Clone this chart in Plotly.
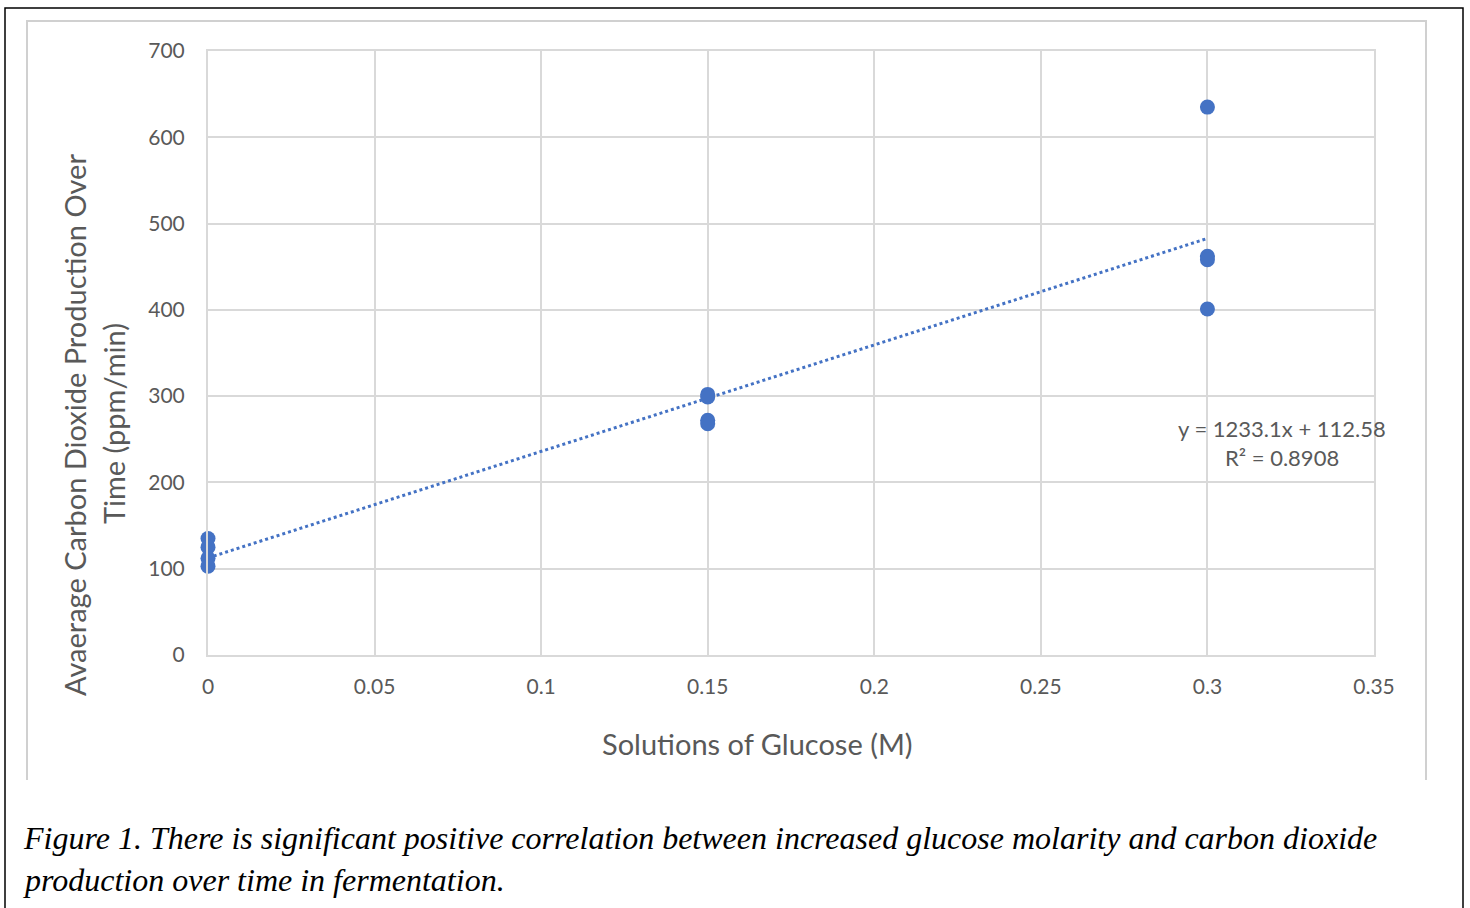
import numpy as np
import plotly.graph_objects as go

# Data
glucose_m = [0, 0, 0, 0, 0.15, 0.15, 0.15, 0.15, 0.3, 0.3, 0.3, 0.3]
co2_rate = [135, 125, 112, 103, 302, 299, 272, 268, 635, 462, 458, 401]
x_ticks = [0, 0.05, 0.1, 0.15, 0.2, 0.25, 0.3, 0.35]
x_tick_labels = ["0", "0.05", "0.1", "0.15", "0.2", "0.25", "0.3", "0.35"]
y_ticks = [0, 100, 200, 300, 400, 500, 600, 700]
eq_text = "y = 1233.1x + 112.58"
r2_text = "R² = 0.8908"
caption_1 = "Figure 1. There is significant positive correlation between increased glucose molarity and carbon dioxide"
caption_2 = "production over time in fermentation."

W, H = 1470, 908
L, R, T, B = 208, 1374, 51, 655
pw, ph = R - L, B - T

def px(x):
    return (x - L) / pw

def py(y):
    return (B - y) / ph

slope, intercept = np.polyfit(glucose_m, co2_rate, 1)
tx = [min(glucose_m), max(glucose_m)]
ty = [slope * v + intercept for v in tx]

blue = "#4472C4"
gray_text = "#595959"
grid = "#D9D9D9"
font_sans = "Lato, 'Open Sans', sans-serif"

fig = go.Figure()
fig.add_trace(go.Scatter(x=tx, y=ty, mode="lines",
                         line=dict(color=blue, width=3, dash="dot"),
                         hoverinfo="skip", showlegend=False, cliponaxis=False))
fig.add_trace(go.Scatter(x=glucose_m, y=co2_rate, mode="markers",
                         marker=dict(color=blue, size=15),
                         showlegend=False, cliponaxis=False))

fig.update_layout(
    width=W, height=H,
    margin=dict(l=L, r=W - R, t=T, b=H - B),
    paper_bgcolor="white", plot_bgcolor="white",
    font=dict(family=font_sans, color=gray_text, size=21),
    xaxis=dict(range=[0, 0.35], tickvals=x_ticks, ticktext=x_tick_labels,
               showgrid=True, gridcolor=grid, gridwidth=2,
               zeroline=False, showline=True, linecolor=grid, linewidth=2,
               mirror=True, ticks="", ticklabelstandoff=12,
               tickfont=dict(size=21, color=gray_text, family=font_sans)),
    yaxis=dict(range=[0, 700], tickvals=y_ticks,
               showgrid=True, gridcolor=grid, gridwidth=2,
               zeroline=False, showline=True, linecolor=grid, linewidth=2,
               mirror=True, ticks="", ticklabelstandoff=17,
               tickfont=dict(size=21, color=gray_text, family=font_sans)),
)

shapes = []
# outer black border
shapes.append(dict(type="rect", xref="paper", yref="paper",
                   x0=px(5), x1=px(1463), y0=py(912), y1=py(8),
                   line=dict(color="black", width=1.5), layer="below"))
# inner chart frame (open at bottom)
shapes.append(dict(type="path", xref="paper", yref="paper",
                   path=f"M {px(27)} {py(780)} L {px(27)} {py(21)} L {px(1426)} {py(21)} L {px(1426)} {py(780)}",
                   line=dict(color="#D0D0D0", width=2), layer="below"))
fig.update_layout(shapes=shapes)

ann = []
ann.append(dict(text="Solutions of Glucose (M)", x=px(757), y=py(743), xref="paper", yref="paper",
                showarrow=False, font=dict(size=29, color=gray_text, family=font_sans),
                xanchor="center", yanchor="middle"))
ann.append(dict(text="Avaerage Carbon Dioxide Production Over", x=px(75), y=py(425), xref="paper", yref="paper",
                showarrow=False, textangle=-90, font=dict(size=29, color=gray_text, family=font_sans),
                xanchor="center", yanchor="middle"))
ann.append(dict(text="Time (ppm/min)", x=px(113), y=py(424), xref="paper", yref="paper",
                showarrow=False, textangle=-90, font=dict(size=29, color=gray_text, family=font_sans),
                xanchor="center", yanchor="middle"))
ann.append(dict(text=eq_text, x=px(1282), y=py(428), xref="paper", yref="paper",
                showarrow=False, font=dict(size=22, color=gray_text, family=font_sans),
                xanchor="center", yanchor="middle"))
ann.append(dict(text=r2_text, x=px(1282), y=py(458), xref="paper", yref="paper",
                showarrow=False, font=dict(size=22, color=gray_text, family=font_sans),
                xanchor="center", yanchor="middle"))
cap_font = dict(size=32, color="black", family="'Liberation Serif', 'Times New Roman', serif")
ann.append(dict(text=f"<i>{caption_1}</i>", x=px(21), y=py(838), xref="paper", yref="paper",
                showarrow=False, font=cap_font, xanchor="left", yanchor="middle"))
ann.append(dict(text=f"<i>{caption_2}</i>", x=px(21), y=py(880), xref="paper", yref="paper",
                showarrow=False, font=cap_font, xanchor="left", yanchor="middle"))
fig.update_layout(annotations=ann)

fig.write_html("out.html", config={"displayModeBar": False},
               post_script="document.body.style.margin='0';document.body.style.overflow='hidden';")
